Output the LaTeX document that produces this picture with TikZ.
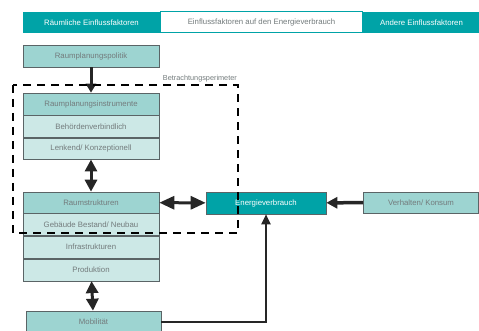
\documentclass[tikz,border=0pt]{standalone}
\usepackage{fontspec}
\setmainfont{Liberation Sans}
\usepackage{xcolor}
\usepackage{tikz}
\usetikzlibrary{
    arrows.meta,
    calc,
    positioning
}
\definecolor{tealdark}{HTML}{00A3A7}
\definecolor{teallight}{HTML}{9DD4D1}
\definecolor{tealpale}{HTML}{CCE8E6}
\definecolor{boxline}{HTML}{5A6466}
\definecolor{boxtext}{HTML}{737B7C}
\tikzset
{
  box/.style={draw=boxline,line width=0.6pt,minimum width=136pt,minimum height=22pt,inner sep=0pt,font=\fontsize{7.8}{9}\selectfont,text=boxtext},
  boxhead/.style={box,fill=teallight},
  boxsub/.style={box,fill=tealpale},
  header/.style={minimum height=21pt,inner sep=0pt,font=\fontsize{7.8}{9}\selectfont},
  bigarrow/.style={draw=black!85,line width=3.5pt,-{Triangle[length=11pt,width=11pt]}},
  bothways/.style={draw=black!85,line width=3pt,{Triangle[length=12pt,width=12pt]}-{Triangle[length=12pt,width=12pt]}},
  perimeter/.style={draw=black,line width=2.4pt,dash pattern=on 8pt off 6pt}
}
\begin{document}
\begin{tikzpicture}[x=1pt,y=-1pt]
    \useasboundingbox (0,0) rectangle (479,331);

        % Header bar
        \node[header,fill=tealdark,text=white,minimum width=137pt] (hleft) at (91.5,22.5) {Räumliche Einflussfaktoren};
        \node[header,fill=white,draw=tealdark,line width=1pt,text=boxtext,minimum width=202pt] (hmid) at (261.5,22.5) {Einflussfaktoren auf den Energieverbrauch};
        \node[header,fill=tealdark,text=white,minimum width=117pt] (hright) at (421.5,22.5) {Andere Einflussfaktoren};

        % Left column
        \node[boxhead] (politik) at (91,56) {Raumplanungspolitik};

        \node[boxhead] (instrumente) at (91,104) {Raumplanungsinstrumente};
        \node[boxsub,below=0pt of instrumente] (behoerden) {Behördenverbindlich};
        \node[boxsub,below=0pt of behoerden,minimum height=21pt] (lenkend) {Lenkend/ Konzeptionell};

        \node[boxhead,minimum height=21pt] (strukturen) at (91,202.5) {Raumstrukturen};
        \node[boxsub,below=0pt of strukturen] (gebaeude) {Gebäude Bestand/ Neubau};
        \node[boxsub,below=0pt of gebaeude] (infra) {Infrastrukturen};
        \node[boxsub,below=0pt of infra] (produktion) {Produktion};

        \node[boxhead,minimum width=135pt] (mobil) at (93.5,322) {Mobilität};

        % Right side
        \node[box,fill=tealdark,text=white,minimum width=120pt] (energie) at (266,203) {Energieverbrauch};
        \node[boxhead,minimum width=115pt,minimum height=21pt] (verhalten) at (421,202.5) {Verhalten/ Konsum};

        % Arrows
        \draw[bigarrow,line width=3pt,-{Triangle[length=9pt,width=10pt]}] (politik) -- (instrumente);
        \draw[bothways] (lenkend) -- (strukturen);
        \draw[bothways,{Triangle[length=15pt,width=13pt]}-{Triangle[length=15pt,width=13pt]}] (strukturen) -- (energie);
        \draw[bigarrow] (verhalten) -- (energie);
        \draw[bothways] (produktion) -- (mobil);
        \draw[draw=black!85,line width=2pt,-{Triangle[length=10pt,width=9pt]}] (mobil.east) -| (energie.south);

        % Perimeter
        \draw[perimeter] (13,85) rectangle (238,233);
        \node[anchor=south east,inner sep=1pt,font=\fontsize{7.3}{8}\selectfont,text=boxtext] (perilabel) at (238,83) {Betrachtungsperimeter};
    \end{tikzpicture}
\end{document}
